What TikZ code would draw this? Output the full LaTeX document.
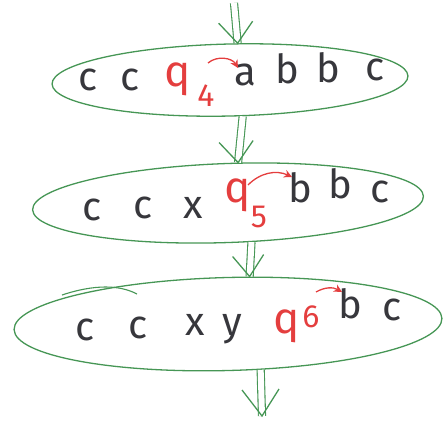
\documentclass[tikz,border=0pt]{standalone}
\usepackage{fontspec}
\setmainfont{Fira Sans}
\usetikzlibrary{shapes.geometric,arrows.meta,calc}
\definecolor{penG}{RGB}{70,150,85}
\definecolor{penR}{RGB}{228,62,62}
\definecolor{penK}{RGB}{55,55,60}
\begin{document}
\begin{tikzpicture}[x=1pt,y=-1pt,
  loop/.style={ellipse, draw=penG, line width=1.3pt, inner sep=0pt},
  sym/.style={anchor=base, text=penK, font=\fontsize{40}{40}\selectfont, inner sep=0pt},
  st/.style={anchor=base, text=penR, font=\fontsize{44}{44}\selectfont, inner sep=0pt},
  idx/.style={anchor=base, text=penR, font=\fontsize{32}{32}\selectfont, inner sep=0pt},
  move/.style={draw=penR, line width=1.3pt, -{Stealth[length=8pt,width=8pt]}},
  flow/.style={draw=penG, line width=1.1pt, double=white, double distance=6pt},
  head/.style={draw=penG, line width=1.3pt},
]
\useasboundingbox (0,0) rectangle (443,423);

% the three configurations
\node[loop, minimum width=356pt, minimum height=72pt, rotate=1.3] (e1) at (230,80) {};
\node[loop, minimum width=391pt, minimum height=79pt, rotate=2] (e2) at (228,203) {};
\node[loop, minimum width=428pt, minimum height=93pt, rotate=1.5] (e3) at (228,324) {};
\draw[penG, line width=1.1pt] (62,295) .. controls (95,284) and (120,285) .. (137,294);

% row 1: c c q4 a b b c
\node[sym] (r1c1) at (88,90) {c};
\node[sym] (r1c2) at (130,90) {c};
\node[st]  (r1q)  at (178,86) {q};
\node[idx] (r1i)  at (206,106) {4};
\node[sym] (r1a)  at (245,85) {a};
\node[sym] (r1b1) at (287,83) {b};
\node[sym] (r1b2) at (328,82) {b};
\node[sym] (r1c3) at (375,80) {c};
\coordinate (m1s) at (208,63);
\coordinate (m1e) at (238,68);
\draw[move] (m1s) to[bend left=50] (m1e);

% row 2: c c x q5 b b c
\node[sym] (r2c1) at (92,220) {c};
\node[sym] (r2c2) at (143,218) {c};
\node[sym] (r2x)  at (193,218) {x};
\node[st]  (r2q)  at (238,202) {q};
\node[idx] (r2i)  at (259,227) {5};
\node[sym] (r2b1) at (300,202) {b};
\node[sym] (r2b2) at (340,198) {b};
\node[sym] (r2c3) at (380,202) {c};
\coordinate (m2s) at (248,185);
\coordinate (m2e) at (292,177);
\draw[move] (m2s) to[bend left=35] (m2e);

% row 3: c c x y q6 b c
\node[sym] (r3c1) at (85,340) {c};
\node[sym] (r3c2) at (138,338) {c};
\node[sym] (r3x)  at (195,335) {x};
\node[sym] (r3y)  at (232,335) {y};
\node[st]  (r3q)  at (287,333) {q};
\node[idx] (r3i)  at (311,327) {6};
\node[sym] (r3b)  at (350,318) {b};
\node[sym] (r3c3) at (392,320) {c};
\coordinate (m3s) at (316,292);
\coordinate (m3e) at (342,292);
\draw[move] (m3s) to[bend left=30] (m3e);

% steps between configurations
\coordinate (top) at (234,3);
\coordinate (bot) at (262,416);
\coordinate (in1) at (e1.77);
\coordinate (out1) at (e1.-72);
\coordinate (in2) at (e2.74);
\coordinate (out2) at (e2.-61);
\coordinate (in3) at (e3.64);
\coordinate (out3) at (e3.-56);

\draw[flow] (top) -- (in1);
\draw[flow] (out1) -- (in2);
\draw[flow] (out2) -- (in3);
\draw[flow] (out3) -- (bot);

% open heads of the steps
\draw[head] ($(in1)+(-19,-20)$) -- (in1) -- ($(in1)+(15,-22)$);
\draw[head] ($(in2)+(-19,-20)$) -- (in2) -- ($(in2)+(15,-22)$);
\draw[head] ($(in3)+(-17,-20)$) -- (in3) -- ($(in3)+(14,-22)$);
\draw[head] ($(bot)+(-20,-26)$) -- (bot) -- ($(bot)+(17,-27)$);
\end{tikzpicture}
\end{document}
